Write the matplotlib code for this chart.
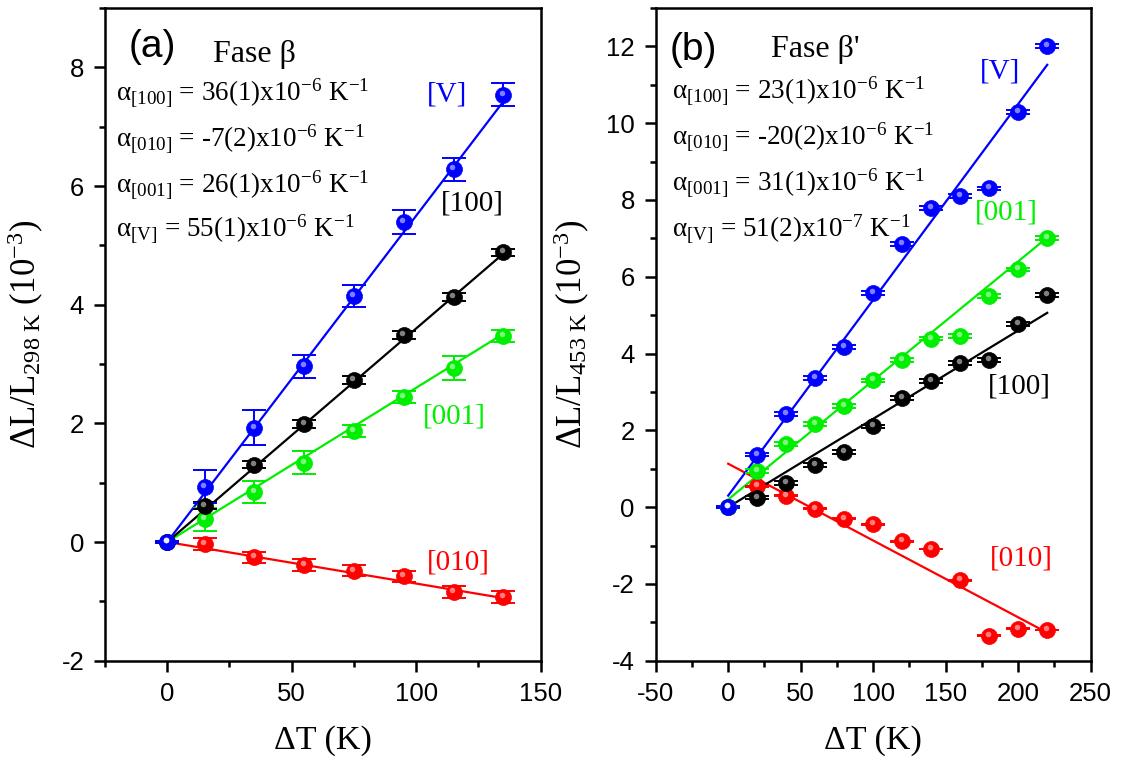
import matplotlib
matplotlib.use("Agg")
import matplotlib.pyplot as plt
from matplotlib.ticker import MultipleLocator
from matplotlib.transforms import offset_copy

plt.rcParams["font.family"] = ["Liberation Sans", "DejaVu Sans"]
plt.rcParams["mathtext.fontset"] = "custom"
plt.rcParams["mathtext.rm"] = "Liberation Serif"
plt.rcParams["mathtext.it"] = "Liberation Serif:italic"
plt.rcParams["mathtext.bf"] = "Liberation Serif:bold"
plt.rcParams["axes.unicode_minus"] = False

SERIF = ["Liberation Serif", "DejaVu Serif"]

# ---- Phase beta, relative to 298 K ----
dT_a = [0, 15, 35, 55, 75, 95, 115, 135]
a_V = [0, 0.93, 1.93, 2.96, 4.15, 5.39, 6.28, 7.54]
a_V_err = [0.02, 0.28, 0.30, 0.20, 0.19, 0.20, 0.20, 0.20]
a_100 = [0, 0.61, 1.30, 1.99, 2.73, 3.49, 4.13, 4.88]
a_100_err = [0.02, 0.06, 0.06, 0.06, 0.06, 0.06, 0.06, 0.06]
a_001 = [0, 0.38, 0.84, 1.34, 1.87, 2.44, 2.93, 3.47]
a_001_err = [0.02, 0.19, 0.19, 0.19, 0.10, 0.10, 0.20, 0.10]
a_010 = [0, -0.03, -0.26, -0.39, -0.48, -0.58, -0.84, -0.93]
a_010_err = [0.02, 0.10, 0.10, 0.10, 0.10, 0.10, 0.10, 0.10]
# expansion coefficients (1e-6 / K) and intercepts of the linear fits
alpha_a = {"[100]": 36, "[010]": -7, "[001]": 26, "[V]": 55}
icpt_a = {"[100]": 0.0, "[010]": 0.0, "[001]": 0.0, "[V]": 0.0}

# ---- Phase beta', relative to 453 K ----
dT_b = [0, 20, 40, 60, 80, 100, 120, 140, 160, 180, 200, 220]
b_V = [0, 1.37, 2.42, 3.37, 4.16, 5.58, 6.85, 7.78, 8.10, 8.30, 10.30, 12.00]
b_V_err = [0.03, 0.05, 0.05, 0.05, 0.05, 0.05, 0.05, 0.05, 0.05, 0.05, 0.05, 0.05]
b_001 = [0, 0.94, 1.65, 2.16, 2.64, 3.30, 3.84, 4.39, 4.45, 5.49, 6.19, 7.00]
b_001_err = [0.03, 0.05, 0.05, 0.05, 0.05, 0.05, 0.05, 0.05, 0.05, 0.05, 0.05, 0.05]
b_100 = [0, 0.25, 0.63, 1.09, 1.43, 2.10, 2.85, 3.29, 3.75, 3.83, 4.78, 5.52]
b_100_err = [0.03, 0.05, 0.05, 0.05, 0.05, 0.05, 0.05, 0.05, 0.05, 0.05, 0.05, 0.05]
b_010 = [0, 0.54, 0.30, -0.04, -0.30, -0.45, -0.89, -1.09, -1.91, -3.35, -3.17, -3.20]
b_010_err = [0.01, 0.01, 0.01, 0.01, 0.01, 0.01, 0.01, 0.01, 0.01, 0.01, 0.01, 0.01]
alpha_b = {"[100]": 23, "[010]": -20, "[001]": 31, "[V]": 51}
icpt_b = {"[100]": 0.0, "[010]": 1.13, "[001]": 0.20, "[V]": 0.30}

COL = {"[100]": "#000000", "[010]": "#ff0000", "[001]": "#00ee00", "[V]": "#0000ff"}

fig = plt.figure(figsize=(11.24, 7.65), dpi=100)
ax_a = fig.add_axes([0.09342, 0.13634, 0.38764, 0.85320])
ax_b = fig.add_axes([0.58337, 0.13634, 0.38701, 0.85320])


def series(ax, x, y, err, key, alpha, icpt):
    c = COL[key]
    slope = alpha * 1e-3  # 1e-6/K expressed in units of 1e-3
    xs = [min(x), max(x)]
    ax.plot(xs, [icpt + slope * v for v in xs], color=c, lw=1.6, zorder=2)
    ax.errorbar(x, y, yerr=err, fmt="none", ecolor=c, elinewidth=1.4,
                capsize=8.3, capthick=1.4, zorder=3)
    ax.plot(x, y, "o", ms=11.5, color=c, mec=c, mew=0.5, zorder=4)
    hl = offset_copy(ax.transData, fig=fig, x=-1.5, y=2.0, units="dots")
    ax.plot(x, y, "o", ms=4.0, color="white", alpha=0.5, mew=0,
            transform=hl, zorder=5)


for key, y, e in [("[010]", a_010, a_010_err), ("[001]", a_001, a_001_err),
                  ("[100]", a_100, a_100_err), ("[V]", a_V, a_V_err)]:
    series(ax_a, dT_a, y, e, key, alpha_a[key], icpt_a[key])

for key, y, e in [("[010]", b_010, b_010_err), ("[100]", b_100, b_100_err),
                  ("[001]", b_001, b_001_err), ("[V]", b_V, b_V_err)]:
    series(ax_b, dT_b, y, e, key, alpha_b[key], icpt_b[key])

# axes limits and ticks
ax_a.set_xlim(-25, 150)
ax_a.set_ylim(-2, 9)
ax_a.xaxis.set_major_locator(MultipleLocator(50))
ax_a.xaxis.set_minor_locator(MultipleLocator(25))
ax_a.yaxis.set_major_locator(MultipleLocator(2))
ax_a.yaxis.set_minor_locator(MultipleLocator(1))

ax_b.set_xlim(-50, 250)
ax_b.set_ylim(-4, 13)
ax_b.xaxis.set_major_locator(MultipleLocator(50))
ax_b.xaxis.set_minor_locator(MultipleLocator(25))
ax_b.yaxis.set_major_locator(MultipleLocator(2))
ax_b.yaxis.set_minor_locator(MultipleLocator(1))

for ax in (ax_a, ax_b):
    for s in ax.spines.values():
        s.set_linewidth(1.8)
    ax.tick_params(which="major", direction="out", length=8, width=1.8,
                   labelsize=18.5, pad=7)
    ax.tick_params(which="minor", direction="out", length=4.5, width=1.8)
    ax.set_xlabel("ΔT (K)", fontsize=24.5, family=SERIF, labelpad=14)

ax_a.set_ylabel(r"ΔL/L$_{\mathrm{298\ K}}$ (10$^{-3}$)", fontsize=25, family=SERIF)
ax_b.set_ylabel(r"ΔL/L$_{\mathrm{453\ K}}$ (10$^{-3}$)", fontsize=25, family=SERIF)
ax_a.yaxis.set_label_coords(-0.135, 0.5)
ax_b.yaxis.set_label_coords(-0.147, 0.5)

# panel tags and phase names
ax_a.text(0.055, 0.940, "(a)", transform=ax_a.transAxes, fontsize=28, va="center")
ax_a.text(0.248, 0.917, "Fase β", transform=ax_a.transAxes, fontsize=23,
          family=SERIF, va="baseline")
ax_b.text(0.033, 0.936, "(b)", transform=ax_b.transAxes, fontsize=28, va="center")
ax_b.text(0.265, 0.925, "Fase β'", transform=ax_b.transAxes, fontsize=23,
          family=SERIF, va="baseline")

# expansion coefficients
coef_a = ["36(1)x10$^{-6}$", "-7(2)x10$^{-6}$", "26(1)x10$^{-6}$", "55(1)x10$^{-6}$"]
coef_b = ["23(1)x10$^{-6}$", "-20(2)x10$^{-6}$", "31(1)x10$^{-6}$", "51(2)x10$^{-7}$"]
names = ["[100]", "[010]", "[001]", "[V]"]
ys_a = [0.858, 0.787, 0.717, 0.649]
ys_b = [0.861, 0.790, 0.720, 0.650]
for n, c, yy in zip(names, coef_a, ys_a):
    ax_a.text(0.025, yy, "α$_{\\mathrm{%s}}$ = %s K$^{-1}$" % (n, c),
              transform=ax_a.transAxes, fontsize=19.5, family=SERIF, va="baseline")
for n, c, yy in zip(names, coef_b, ys_b):
    ax_b.text(0.037, yy, "α$_{\\mathrm{%s}}$ = %s K$^{-1}$" % (n, c),
              transform=ax_b.transAxes, fontsize=19.5, family=SERIF, va="baseline")

# direction labels
lab_a = {"[V]": (0.739, 0.868), "[100]": (0.771, 0.700),
         "[001]": (0.730, 0.374), "[010]": (0.739, 0.150)}
lab_b = {"[V]": (0.746, 0.903), "[001]": (0.734, 0.686),
         "[100]": (0.764, 0.420), "[010]": (0.768, 0.157)}
for ax, labs in ((ax_a, lab_a), (ax_b, lab_b)):
    for k, (xx, yy) in labs.items():
        ax.text(xx, yy, k, transform=ax.transAxes, fontsize=21, family=SERIF,
                color=COL[k], va="center")

fig.savefig("out.png", dpi=100)
